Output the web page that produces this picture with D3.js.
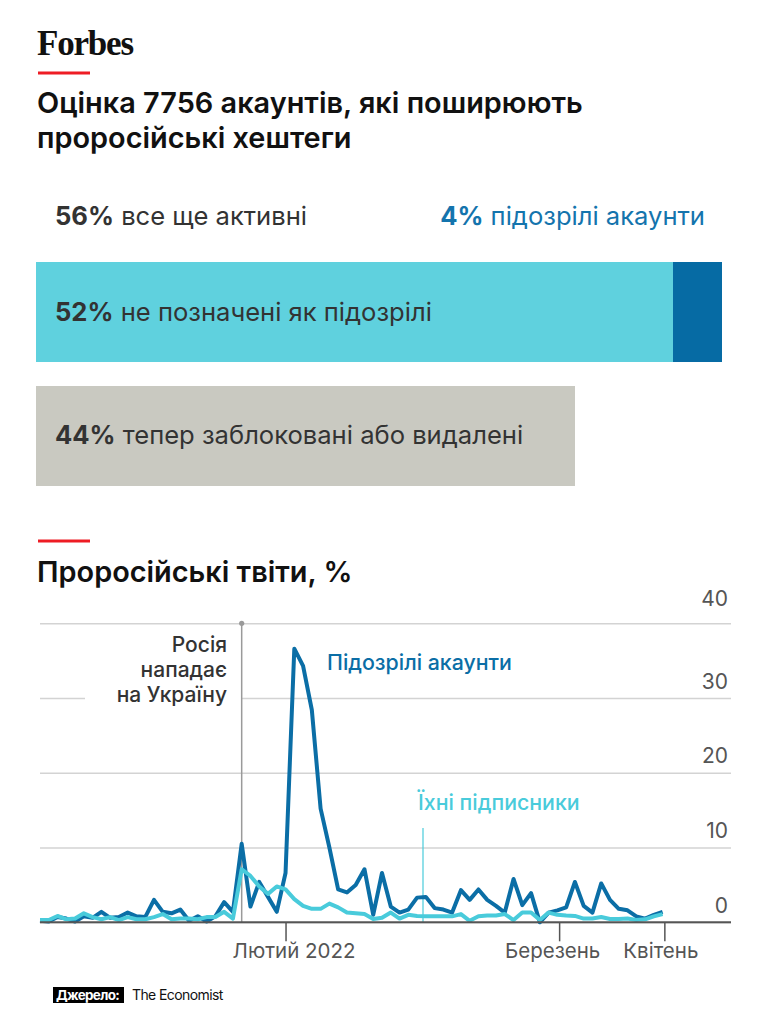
<!DOCTYPE html>
<html>
<head>
<meta charset="utf-8">
<script src="https://cdn.jsdelivr.net/npm/d3@7/dist/d3.min.js"></script>
<style>
  html, body { margin: 0; padding: 0; background: #fff; }
  svg { display: block; }
</style>
</head>
<body>
<svg id="chart" width="764" height="1029" font-family="Inter, Roboto, 'Noto Sans', sans-serif"></svg>
<script>
// ---------- DATA ----------
const titleLines = ["Оцінка 7756 акаунтів, які поширюють", "проросійські хештеги"];
const chartTitle = "Проросійські твіти, %";

// Stacked share bars (percent of 7756 accounts)
const barRows = ["active", "blocked"];
const activeNotFlagged = 52;
const activeSuspicious = 4;
const blockedDeleted = 44;
const topLabelActive = ["56%", " все ще активні"];
const topLabelSuspicious = ["4%", " підозрілі акаунти"];
const barLabelActive = ["52%", " не позначені як підозрілі"];
const barLabelBlocked = ["44%", " тепер заблоковані або видалені"];

// Daily share of pro-Russian tweets, %
const suspicious = [0.2,0.1,0.7,0.5,0.1,0.8,0.6,1.4,0.6,0.7,1.3,0.8,0.7,3.0,1.4,1.2,1.7,0.2,0.8,0.1,0.8,2.7,1.4,10.5,
  2.1,5.4,3.4,1.4,6.6,36.6,34.3,28.4,15.2,10.0,4.4,4.0,5.0,7.1,1.0,6.6,2.1,1.3,1.7,3.3,3.4,1.9,1.7,1.3,4.3,3.0,4.4,3.0,2.2,1.3,
  5.8,2.3,3.9,0.0,1.3,1.6,2.0,5.4,2.2,1.3,5.2,3.0,1.8,1.6,0.8,0.5,1.0,1.4];
const followers = [0.3,0.3,0.85,0.4,0.5,1.2,0.7,0.4,0.7,0.3,0.7,0.4,0.4,0.7,1.1,0.4,0.5,0.5,0.4,0.7,0.7,1.4,0.5,7.1,
  6.2,4.8,3.8,4.8,4.4,3.1,2.2,1.8,1.8,2.5,2.0,1.3,1.2,1.1,0.45,0.6,1.3,0.5,1.0,0.85,0.8,0.8,0.8,0.8,1.1,0.2,0.8,0.9,0.9,1.1,
  0.3,1.3,1.3,0.3,1.3,1.0,0.9,0.85,0.5,0.5,0.7,0.45,0.45,0.5,0.3,0.4,0.8,1.1];
const invasionIndex = 23;
const yTicks = [0, 10, 20, 30, 40];
const xTickPositions = [28, 59.2, 71.2];
const xTickLabels = ["Лютий 2022", "Березень", "Квітень"];
const annotationLines = ["Росія", "нападає", "на Україну"];
const seriesLabels = ["Підозрілі акаунти", "Їхні підписники"];
const sourceLabel = "Джерело:";
const sourceText = "The Economist";

// ---------- STYLE ----------
const C = {
  red: "#ee1c24",
  cyan: "#5fd1de",
  dark: "#066ba4",
  gray: "#c9c9c1",
  text: "#333333",
  axis: "#555555",
  grid: "#d3d3d3",
  line1: "#0b6ea6",
  line2: "#49cbdb",
  blueLabel: "#1474ad"
};

const svg = d3.select("#chart");

// fit helper: set font size so the text spans the target width
function fitWidth(sel, target) {
  const w = sel.node().getComputedTextLength();
  const fs = parseFloat(sel.attr("font-size"));
  sel.attr("font-size", (fs * target / w).toFixed(2));
}

// Forbes logo
svg.append("text").attr("x", 37).attr("y", 55)
  .style("font-family", "'Liberation Serif', 'DejaVu Serif', serif")
  .attr("font-weight", 700).attr("font-size", 35).attr("letter-spacing", -1.2)
  .attr("fill", "#111").text("Forbes");

// red rules
[73, 541].forEach(yy => svg.append("rect").attr("x", 38).attr("y", yy - 1.5).attr("width", 52).attr("height", 3).attr("fill", C.red));

// Title
const t0 = svg.append("text").attr("x", 37).attr("y", 113)
  .attr("font-size", 28).attr("font-weight", 600).attr("fill", "#111").text(titleLines[0]);
fitWidth(t0, 546);
const titleFs = t0.attr("font-size");
svg.append("text").attr("x", 37).attr("y", 148)
  .attr("font-size", titleFs).attr("font-weight", 600).attr("fill", "#111").text(titleLines[1]);

// ---------- BARS ----------
const bx = d3.scaleLinear().domain([0, activeNotFlagged + activeSuspicious]).range([36, 722]);
const by = d3.scaleBand().domain(barRows).range([262, 486]).paddingInner(0.1935);

const segs = [
  {row: "active", x0: 0, x1: activeNotFlagged, color: C.cyan},
  {row: "active", x0: activeNotFlagged, x1: activeNotFlagged + activeSuspicious, color: C.dark},
  {row: "blocked", x0: 0, x1: blockedDeleted, color: C.gray}
];
svg.append("g").selectAll("rect").data(segs).join("rect")
  .attr("x", d => bx(d.x0)).attr("width", d => bx(d.x1) - bx(d.x0))
  .attr("y", d => by(d.row)).attr("height", by.bandwidth())
  .attr("fill", d => d.color);

function twoPart(x, y, parts, color, anchor, fs) {
  const t = svg.append("text").attr("x", x).attr("y", y).attr("font-size", fs)
    .attr("fill", color).attr("text-anchor", anchor || "start");
  t.append("tspan").attr("font-weight", 700).text(parts[0]);
  t.append("tspan").attr("font-weight", 400).text(parts[1]);
  return t;
}
const tl = twoPart(55, 225, topLabelActive, C.text, "start", 24);
fitWidth(tl, 252);
const barFs = tl.attr("font-size");
twoPart(705, 225, topLabelSuspicious, C.blueLabel, "end", barFs);
twoPart(55, by("active") + by.bandwidth() / 2 + 9, barLabelActive, C.text, "start", barFs);
twoPart(55, by("blocked") + by.bandwidth() / 2 + 8, barLabelBlocked, C.text, "start", barFs);

// Chart title
svg.append("text").attr("x", 37).attr("y", 582)
  .attr("font-size", titleFs).attr("font-weight", 600).attr("fill", "#111").text(chartTitle);

// ---------- LINE CHART ----------
const left = 40, right = 731;
const x = d3.scaleLinear().domain([0, suspicious.length - 1]).range([40, 662.6]);
const y = d3.scaleLinear().domain([0, 40]).range([922.3, 623.3]);

// grid via axis
const gy = svg.append("g").attr("transform", `translate(${right},0)`)
  .call(d3.axisLeft(y).tickValues(yTicks).tickSize(right - left).tickFormat(d => d));
gy.attr("font-family", null).attr("font-size", null);
gy.select(".domain").remove();
gy.selectAll(".tick line").attr("stroke", C.grid).attr("stroke-width", 1.5);
gy.selectAll(".tick text")
  .attr("x", -3).attr("dy", d => d === 40 ? -18 : -10)
  .attr("text-anchor", "end").attr("font-size", 21).attr("fill", C.axis);

// knock-out behind annotation text on the 30 gridline
svg.append("rect").attr("x", 85).attr("y", y(30) - 2).attr("width", 156).attr("height", 4).attr("fill", "#fff");

// x-axis ticks
const gx = svg.append("g").attr("transform", `translate(0,${y(0)})`)
  .call(d3.axisBottom(x).tickValues(xTickPositions).tickSize(19)
    .tickFormat((d, i) => xTickLabels[i]));
gx.attr("font-family", null).attr("font-size", null);
gx.select(".domain").remove();
gx.selectAll(".tick line").attr("stroke", C.axis).attr("stroke-width", 1.5);
const labelShift = [8, -7, -4];
gx.selectAll(".tick text").attr("y", 36).attr("dy", 0)
  .attr("dx", (d, i) => labelShift[i])
  .attr("font-size", 20.5).attr("fill", C.axis);

// invasion marker
const ix = x(invasionIndex);
svg.append("line").attr("x1", ix).attr("x2", ix).attr("y1", y(40)).attr("y2", y(0))
  .attr("stroke", "#9a9a9a").attr("stroke-width", 1.5);
svg.append("circle").attr("cx", ix).attr("cy", y(40)).attr("r", 2.6).attr("fill", "#9a9a9a");
annotationLines.forEach((t, i) => svg.append("text")
  .attr("x", 227).attr("y", 652 + i * 25).attr("text-anchor", "end")
  .attr("font-size", 21).attr("font-weight", 500).attr("fill", C.text).text(t));

// followers pointer
svg.append("line").attr("x1", 423).attr("x2", 423).attr("y1", 828).attr("y2", y(0))
  .attr("stroke", C.line2).attr("stroke-width", 1.2);

// lines
const line = d3.line().x((d, i) => x(i)).y(d => y(d));
svg.append("path").datum(suspicious).attr("d", line)
  .attr("fill", "none").attr("stroke", C.line1).attr("stroke-width", 4).attr("stroke-linejoin", "round");
svg.append("path").datum(followers).attr("d", line)
  .attr("fill", "none").attr("stroke", C.line2).attr("stroke-width", 4).attr("stroke-linejoin", "round");

// baseline
svg.append("line").attr("x1", left).attr("x2", right).attr("y1", y(0)).attr("y2", y(0))
  .attr("stroke", C.axis).attr("stroke-width", 2);

// series labels
const s1 = svg.append("text").attr("x", 327).attr("y", 670).attr("font-size", 20).attr("font-weight", 500)
  .attr("fill", C.line1).text(seriesLabels[0]);
fitWidth(s1, 185);
svg.append("text").attr("x", 418).attr("y", 810).attr("font-size", s1.attr("font-size")).attr("font-weight", 500)
  .attr("fill", C.line2).text(seriesLabels[1]);

// source
svg.append("rect").attr("x", 53).attr("y", 987).attr("width", 71).attr("height", 16).attr("fill", "#000");
svg.append("text").attr("x", 56).attr("y", 1000).attr("font-size", 13.5).attr("font-weight", 700)
  .attr("letter-spacing", -0.7).attr("fill", "#fff").text(sourceLabel);
svg.append("text").attr("x", 132).attr("y", 1000).attr("font-size", 14)
  .attr("letter-spacing", -0.6).attr("fill", "#111").text(sourceText);
</script>
</body>
</html>
